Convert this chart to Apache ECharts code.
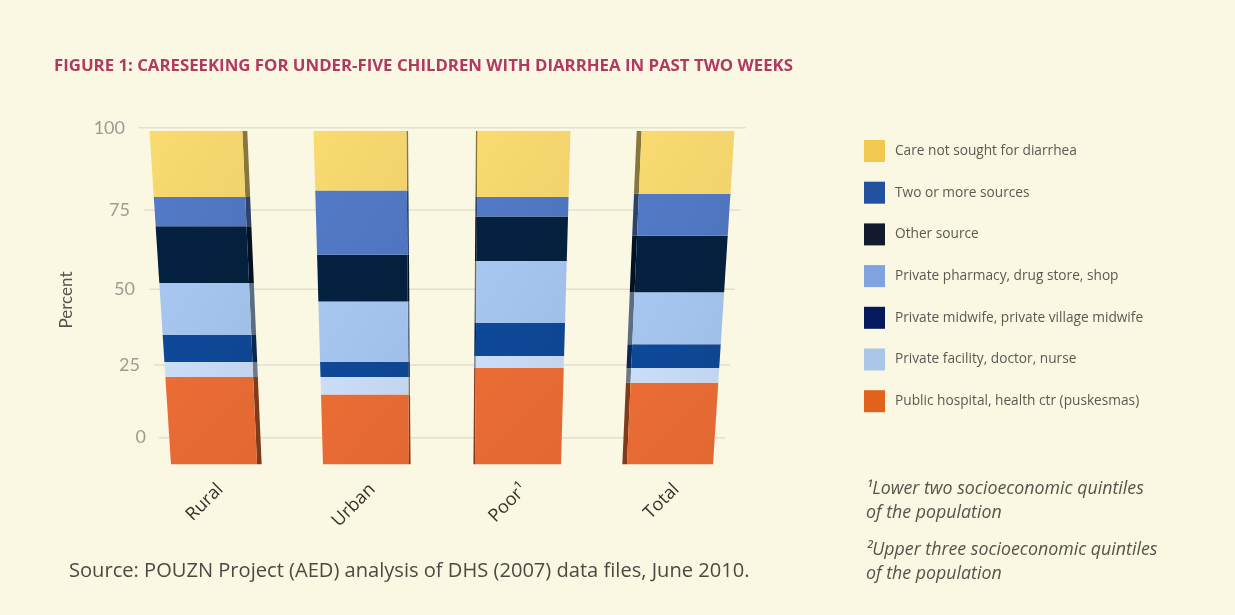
<!DOCTYPE html>
<html>
<head>
<meta charset="utf-8">
<title>Careseeking for under-five children with diarrhea</title>
<script src="https://cdn.jsdelivr.net/npm/echarts@6/dist/echarts.min.js"></script>
<style>
html,body{margin:0;padding:0;background:#faf7e2;}
#chart{width:1235px;height:615px;}
</style>
</head>
<body>
<div id="chart"></div>
<script>
// Percent of under-five children by care source, stacked bottom to top.
const categories = ['Rural', 'Urban', 'Poor¹', 'Total'];
const publicHospital   = [21, 15, 24, 19];
const privateFacility  = [5, 6, 4, 5];
const privateMidwife   = [9, 5, 11, 8];
const privatePharmacy  = [17, 20, 20, 17];
const otherSource      = [18, 15, 14, 18];
const twoOrMore        = [9, 20, 6, 13];
const careNotSought    = [20, 18, 20, 19];
const tickValues = [0, 25, 50, 75, 100];

const sources = [
  { name: 'Public hospital, health ctr (puskesmas)', values: publicHospital, face: '#e96b34', swatch: '#e0621c' },
  { name: 'Private facility, doctor, nurse', values: privateFacility, face: '#c9dcf5', swatch: '#aac6e8' },
  { name: 'Private midwife, private village midwife', values: privateMidwife, face: '#0e4897', swatch: '#05195c' },
  { name: 'Private pharmacy, drug store, shop', values: privatePharmacy, face: '#a5c5ef', swatch: '#80a2de' },
  { name: 'Other source', values: otherSource, face: '#04213f', swatch: '#111b2d' },
  { name: 'Two or more sources', values: twoOrMore, face: '#5279c5', swatch: '#22519f' },
  { name: 'Care not sought for diarrhea', values: careNotSought, face: '#f8d96f', swatch: '#f1c94f' }
];

// The plot is a tilted 3D plane: values bend slightly along its height and
// everything narrows toward the foot of the bars.
const CURVE = 0.00084;
const AXIS_FOOT = -8.6;
const WIDEN = 0.08;
const BAR_WIDTH = 0.566;
const SIDE_DEPTH = 0.02;
const GRID_OVERHANG = 0.35;
const bend = v => +(v * (1 - 100 * CURVE) + CURVE * v * v).toFixed(6);

// Multiplies a colour's channels: below 1 darkens, above 1 brightens.
function shade(color, k) {
  const c = echarts.color.parse(color);
  return 'rgb(' + [0, 1, 2].map(i => Math.min(255, Math.round(c[i] * k))).join(',') + ')';
}

function projector(api) {
  const band = api.size([1, 0])[0];
  const middle = (api.coord([1, 0])[0] + api.coord([2, 0])[0]) / 2;
  const project = (cat, offset, w) => {
    const c = api.coord([cat, w]);
    const s = 1 + WIDEN * (w - AXIS_FOOT) / (100 - AXIS_FOOT);
    return [middle + (c[0] + offset * band - middle) * s, c[1]];
  };
  return { project, middle };
}

function renderSegment(params, api) {
  const cat = api.value(0), low = api.value(1), high = api.value(2);
  const { project, middle } = projector(api);
  const half = BAR_WIDTH / 2;
  const bl = project(cat, -half, low), br = project(cat, half, low);
  const tl = project(cat, -half, high), tr = project(cat, half, high);
  const face = sources[params.seriesIndex - 1].face;
  // The side face shows on the edge turned toward the middle of the chart.
  const onLeft = (bl[0] + br[0]) / 2 > middle;
  const inner = onLeft ? [tl, bl] : [tr, br];
  const shift = p => [p[0] + (middle - (tl[0] + tr[0]) / 2) * SIDE_DEPTH, p[1]];
  return {
    type: 'group',
    children: [
      { type: 'polygon',
        shape: { points: [inner[0], shift(inner[0]), shift(inner[1]), inner[1]] },
        style: { fill: shade(face, 0.55) } },
      { type: 'polygon',
        shape: { points: [tl, tr, br, bl] },
        style: { fill: new echarts.graphic.LinearGradient(0, 0, 1, 1, [
          { offset: 0, color: shade(face, 1.01) },
          { offset: 1, color: shade(face, 0.97) }
        ]) } }
    ]
  };
}

function renderGridLine(params, api) {
  const w = api.value(0);
  const { project } = projector(api);
  const a = project(0, -GRID_OVERHANG, w), b = project(3, GRID_OVERHANG, w);
  return { type: 'line',
    shape: { x1: a[0], y1: a[1], x2: b[0], y2: b[1] },
    style: { stroke: '#e2dfca', lineWidth: 1.5 } };
}

const tickIndent = { 0: 0, 25: 6, 50: 11, 75: 16, 100: 21 };
const tickRich = {};
tickValues.forEach(t => {
  tickRich['t' + t] = { fontFamily: 'Lato', fontSize: 18, color: '#9c9c92', padding: [0, tickIndent[t], 0, 0] };
});
const tickFor = value => tickValues.find(t => Math.abs(bend(t) - value) < 1e-3);

const running = categories.map(() => 0);
const segmentSeries = sources.map((src, i) => ({
  type: 'custom',
  name: src.name,
  z: 3,
  itemStyle: { color: src.swatch },
  renderItem: renderSegment,
  encode: { x: 0, y: [1, 2] },
  data: src.values.map((v, c) => {
    const low = i === 0 ? AXIS_FOOT : bend(running[c]);
    running[c] += v;
    return [c, low, bend(running[c])];
  })
}));

const footnote = (text, top) => ({
  text, left: 866, top, padding: 0,
  textStyle: { fontFamily: 'Open Sans', fontStyle: 'italic', fontWeight: 'normal', fontSize: 17.8, color: '#55544c' }
});

const chart = echarts.init(document.getElementById('chart'), null, { renderer: 'canvas' });
chart.setOption({
  animation: false,
  backgroundColor: '#faf7e2',
  title: [
    { text: 'FIGURE 1: CARESEEKING FOR UNDER-FIVE CHILDREN WITH DIARRHEA IN PAST TWO WEEKS',
      left: 54, top: 58, padding: 0,
      textStyle: { fontFamily: 'Open Sans', fontWeight: 'bold', fontSize: 16.8, color: '#b13a62' } },
    { text: 'Source: POUZN Project (AED) analysis of DHS (2007) data files, June 2010.',
      left: 69, top: 561, padding: 0,
      textStyle: { fontFamily: 'Open Sans', fontWeight: 'normal', fontSize: 20.1, color: '#4a4a44' } },
    footnote('¹Lower two socioeconomic quintiles', 480),
    footnote('of the population', 504),
    footnote('²Upper three socioeconomic quintiles', 541),
    footnote('of the population', 565)
  ],
  legend: {
    orient: 'vertical', left: 859, top: 135,
    itemWidth: 21, itemHeight: 22, itemGap: 19.7,
    icon: 'rect',
    selectedMode: false,
    data: sources.map(s => s.name).reverse(),
    textStyle: { fontFamily: 'Open Sans', fontSize: 13.7, color: '#5a5a52', padding: [0, 0, 0, 5] }
  },
  grid: { left: 138, width: 608, top: 127.7, height: 336.6 },
  xAxis: {
    type: 'category',
    data: categories,
    axisLine: { show: false },
    axisTick: { show: false },
    axisLabel: {
      rotate: 45, margin: 16,
      align: 'right', verticalAlign: 'top',
      fontFamily: 'Open Sans', fontWeight: 500, fontSize: 18, color: '#33332e'
    }
  },
  yAxis: {
    type: 'value',
    min: AXIS_FOOT, max: 100,
    offset: -8,
    name: 'Percent',
    nameLocation: 'middle',
    nameGap: 71,
    nameTextStyle: { fontFamily: 'Lato', fontSize: 17, color: '#55554d', padding: [0, 8, 0, 0] },
    axisLine: { show: false },
    axisTick: { show: false },
    splitLine: { show: false },
    axisLabel: {
      margin: 0,
      showMaxLabel: true,
      hideOverlap: false,
      customValues: tickValues.map(bend),
      formatter: value => { const t = tickFor(value); return '{t' + t + '|' + t + '}'; },
      rich: tickRich
    }
  },
  series: [
    { type: 'custom', name: 'gridlines', z: 1, silent: true,
      renderItem: renderGridLine,
      encode: { y: 0 },
      data: tickValues.map(t => [bend(t)]) },
    ...segmentSeries
  ]
});
</script>
</body>
</html>
